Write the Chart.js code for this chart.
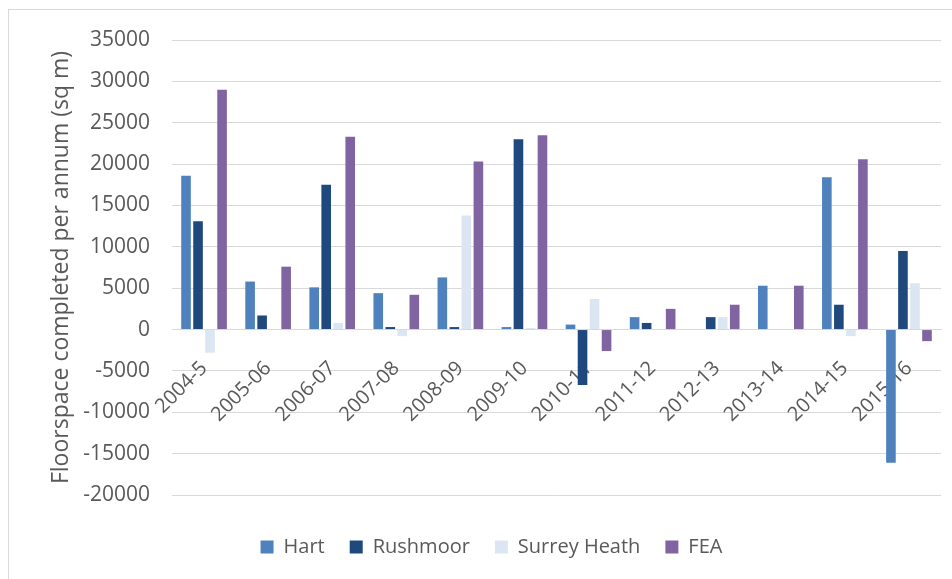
<!DOCTYPE html>
<html>
<head>
<meta charset="utf-8">
<script src="https://cdn.jsdelivr.net/npm/chart.js@4"></script>
<style>
  html, body { margin: 0; padding: 0; background: #ffffff; overflow: hidden; }
  #wrap { position: relative; width: 952px; height: 579px; }
  #frame {
    position: absolute; left: 8px; top: 9px; width: 960px; height: 600px;
    border: 1px solid #d9d9d9; pointer-events: none;
  }
</style>
</head>
<body>
<div id="wrap">
  <canvas id="chart" width="952" height="579"></canvas>
  <div id="frame"></div>
</div>
<script>
// ============= DATA =============
const years = ['2004-5', '2005-06', '2006-07', '2007-08', '2008-09', '2009-10',
  '2010-11', '2011-12', '2012-13', '2013-14', '2014-15', '2015-16'];

const hart        = [18600, 5800, 5100, 4400, 6300, 300, 600, 1500, 0, 5300, 18400, -16100];
const rushmoor    = [13100, 1700, 17500, 300, 300, 23000, -6700, 800, 1500, 0, 3000, 9500];
const surreyHeath = [-2800, 0, 800, -800, 13800, 200, 3700, 0, 1500, 0, -800, 5600];
const fea         = [29000, 7600, 23300, 4200, 20300, 23500, -2600, 2500, 3000, 5300, 20600, -1400];

const yTicks = [-20000, -15000, -10000, -5000, 0, 5000, 10000, 15000, 20000, 25000, 30000, 35000];

const textColor = '#595959';
const gridColor = '#d9d9d9';
const fontFamily = '"Open Sans", "Liberation Sans", sans-serif';

// ============= CHART =============
function initializeChart() {
  const ctx = document.getElementById('chart').getContext('2d');

  return new Chart(ctx, {
    type: 'bar',
    data: {
      labels: years,
      datasets: [
        { label: 'Hart', data: hart, backgroundColor: '#4f81bd' },
        { label: 'Rushmoor', data: rushmoor, backgroundColor: '#1f497d' },
        { label: 'Surrey Heath', data: surreyHeath, backgroundColor: '#dce6f2' },
        { label: 'FEA', data: fea, backgroundColor: '#8064a2' }
      ]
    },
    options: {
      responsive: false,
      animation: false,
      devicePixelRatio: 1,
      layout: { padding: { left: 42, right: 11, top: 40, bottom: 12 } },
      datasets: {
        bar: { categoryPercentage: 0.75, barPercentage: 0.8 }
      },
      scales: {
        x: {
          position: { y: 0 },
          grid: { display: false },
          border: { display: true, color: gridColor, width: 1 },
          ticks: {
            color: textColor,
            font: { family: fontFamily, size: 20 },
            autoSkip: false,
            maxRotation: 45,
            minRotation: 45,
            padding: 19
          }
        },
        y: {
          min: yTicks[0],
          max: yTicks[yTicks.length - 1],
          afterFit: (scale) => { scale.width = 130; },
          afterBuildTicks: (scale) => { scale.ticks = yTicks.map(v => ({ value: v })); },
          grid: { color: gridColor, lineWidth: 1, drawTicks: false },
          border: { display: false },
          ticks: {
            color: textColor,
            font: { family: fontFamily, size: 21 },
            padding: 22,
            callback: (value) => String(value)
          },
          title: {
            display: true,
            text: 'Floorspace completed per annum (sq m)',
            color: textColor,
            font: { family: fontFamily, size: 23 },
            padding: { top: 6, bottom: 0 }
          }
        }
      },
      plugins: {
        legend: {
          position: 'bottom',
          title: { display: true, text: '', font: { size: 10 }, padding: { top: 5, bottom: 0 } },
          labels: {
            color: textColor,
            font: { family: fontFamily, size: 20 },
            boxWidth: 13,
            boxHeight: 13,
            padding: 25
          }
        },
        tooltip: { enabled: false }
      }
    }
  });
}

const floorspaceChart = initializeChart();
</script>
</body>
</html>
